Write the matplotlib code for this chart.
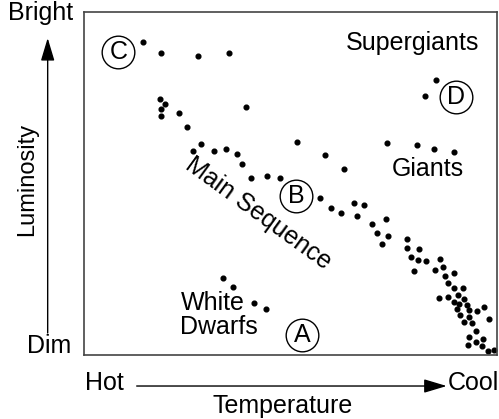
import matplotlib.pyplot as plt

plt.rcParams['font.family'] = ['Liberation Sans', 'DejaVu Sans']

# temperature index (0 = hottest, left) and luminosity index (0 = dimmest)
temp = [59.3, 77.3, 113.7, 145.3, 75.7, 81, 76.7, 76.7, 95.3, 102.7, 162, 213.5,
        117.3, 109, 129.7, 141.7, 153, 158.3, 166.7, 182.7, 196, 241.3, 260,
        302.7, 333.3, 350, 370, 352.3, 341.3,
        236, 246.7, 257.3, 270, 280.5, 273.5, 288.3, 301.7, 293.3, 303.7, 298,
        322.7, 322.7, 334.7, 326.7, 334, 342.3, 330.3, 355.7, 359, 351, 360.7,
        370, 363.7, 370, 378.7, 355, 363.7, 374.3, 369.7, 379.7, 375, 373,
        382.7, 384.7, 392.7, 399.7, 376.3, 385, 379.7, 388, 405.3, 392.3, 385,
        392, 399, 384, 397.7, 403.7, 410,
        139.3, 149.3, 169.7, 181.7]
lum = [312.7, 302.3, 299, 302, 256, 251, 245.7, 239.3, 241.7, 228, 247.7, 213,
       211.3, 204.3, 204.3, 206.3, 201, 190.7, 177, 178.7, 177, 200, 186.5,
       212, 209.7, 206.3, 202.7, 275.3, 259,
       157, 147.5, 142, 152, 149.7, 139, 131, 136, 122, 119, 111,
       116.3, 107.3, 105.7, 98.3, 95, 93.7, 84, 96, 88.3, 85, 79,
       81.7, 71.7, 66.7, 67.3, 57.3, 58.3, 59.7, 52.7, 55.7, 51, 46,
       50, 45, 43.7, 48.3, 39.7, 37.7, 33, 31.7, 36.3, 23.7, 17.7,
       13.3, 15.7, 10.3, 9, 4, 5,
       77.3, 68.3, 52.3, 46.3]

letters = ['A', 'B', 'C', 'D']
letter_temp = [218, 212.5, 34.5, 372]
letter_lum = [20, 159.5, 303, 258]

fig = plt.figure(figsize=(4.99, 4.19), dpi=100)
ax = fig.add_axes([0.1683, 0.1527, 0.8277, 0.8186])
ax.set_xlim(0, 413)
ax.set_ylim(0, 343)
ax.set_xticks([])
ax.set_yticks([])
for s in ax.spines.values():
    s.set_color('#444444')
    s.set_linewidth(1.2)

ax.plot(temp, lum, 'o', color='black', ms=3.4, ls='none')

# circled letters
ax.plot(letter_temp, letter_lum, 'o', ms=23.5, mfc='white', mec='black',
        mew=1.0, ls='none')
for t, x, y in zip(letters, letter_temp, letter_lum):
    ax.text(x, y, t, fontsize=18, ha='center', va='center')

fs = 18
ax.text(329, 305, 'Supergiants', fontsize=fs, ha='center', va='baseline')
ax.text(344, 179, 'Giants', fontsize=fs, ha='center', va='baseline')
ax.text(174, 142, 'Main Sequence', fontsize=fs, ha='center', va='center',
        rotation=-36, rotation_mode='anchor')
ax.text(96.5, 45, 'White', fontsize=fs, ha='left', va='baseline')
ax.text(96.5, 21, 'Dwarfs', fontsize=fs, ha='left', va='baseline')

# outer labels and arrows
kw = dict(fontsize=fs, clip_on=False)
ax.text(20.5, -35, 'Hot', ha='center', va='baseline', **kw)
ax.text(389.5, -35, 'Cool', ha='center', va='baseline', **kw)
ax.text(199, -57.7, 'Temperature', ha='center', va='baseline', **kw)
ax.text(-11.3, 335.5, 'Bright', ha='right', va='baseline', **kw)
ax.text(-12.3, 2.3, 'Dim', ha='right', va='baseline', **kw)
ax.text(-56.7, 176, 'Luminosity', ha='center', va='center', rotation=90,
        fontsize=17, clip_on=False)

arrow = dict(arrowstyle='-|>,head_length=1.4,head_width=0.42', color='black',
             lw=1.0, shrinkA=0, shrinkB=0)
ax.annotate('', xy=(362.7, -31), xytext=(52.7, -31), arrowprops=arrow,
            annotation_clip=False)
ax.annotate('', xy=(-36.3, 317), xytext=(-36.3, 22), arrowprops=arrow,
            annotation_clip=False)

fig.savefig('out.png', dpi=100)
